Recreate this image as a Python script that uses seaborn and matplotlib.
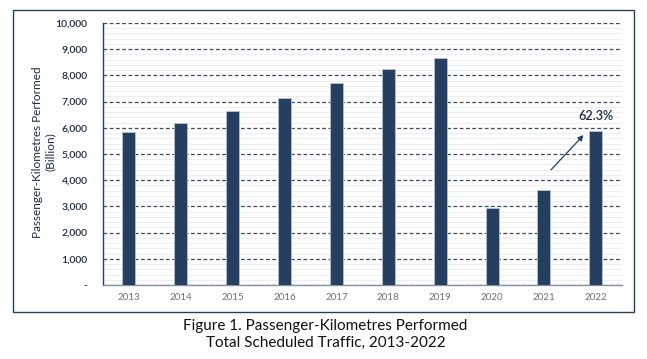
import numpy as np
import pandas as pd
import matplotlib.pyplot as plt
import seaborn as sns
from matplotlib.patches import Rectangle
from matplotlib.ticker import FuncFormatter, MultipleLocator

years = ['2013', '2014', '2015', '2016', '2017', '2018', '2019', '2020', '2021', '2022']
pkp = [5836, 6190, 6650, 7140, 7695, 8252, 8656, 2950, 3620, 5880]
growth_label = '62.3%'

NAVY = '#243f60'

sns.set_style('white')
plt.rcParams['font.family'] = ['Lato', 'DejaVu Sans']

df = pd.DataFrame({'year': years, 'pkp': pkp})

fig = plt.figure(figsize=(6.47, 3.59), dpi=100)
ax = fig.add_axes([0.159, 0.206, 0.802, 0.730])

sns.barplot(data=df, x='year', y='pkp', color=NAVY, width=0.25,
            edgecolor='#b8c2d0', linewidth=0.6, saturation=1, ax=ax, zorder=3)

ax.set_ylim(0, 10000)
ax.set_xlim(-0.5, 9.5)
ax.yaxis.set_major_locator(MultipleLocator(1000))
ax.yaxis.set_minor_locator(MultipleLocator(200))
ax.yaxis.set_major_formatter(FuncFormatter(lambda v, p: '-' if v == 0 else f'{int(v):,}'))

# faint minor lines and dashed major lines
ax.grid(axis='y', which='minor', color='#eeeeee', linewidth=0.7, zorder=0)
ax.grid(axis='y', which='major', color='#3a4a66', linestyle=(0, (3, 2)), linewidth=0.9, zorder=1)
ax.set_axisbelow(True)

for s in ['top', 'right']:
    ax.spines[s].set_visible(False)
ax.spines['left'].set_color(NAVY)
ax.spines['left'].set_linewidth(1.0)
ax.spines['bottom'].set_color('#8090a8')
ax.spines['bottom'].set_linewidth(1.0)

ax.tick_params(axis='y', which='major', length=3, color=NAVY, labelsize=7.5, labelcolor='#1a2a44', pad=8)
ax.tick_params(axis='y', which='minor', length=0)
for t in ax.get_yticklabels():
    t.set_fontweight('semibold')
ax.tick_params(axis='x', length=0, labelsize=7, labelcolor='#707070', pad=6)

ax.set_xlabel('')
ax.set_ylabel('')
fig.text(0.068, 0.577, 'Passenger-Kilometres Performed\n(Billion)', rotation=90,
         ha='center', va='center', multialignment='center', fontsize=8.5, color='#1a2a44')

# growth arrow from 2021 towards 2022
ax.annotate('', xy=(8.8, pkp[9] - 80), xytext=(8.1, pkp[8] + 700),
            arrowprops=dict(arrowstyle='-|>', color=NAVY, lw=0.9, mutation_scale=8), zorder=4)
ax.text(9.0, pkp[9] + 570, growth_label, ha='center', va='center', fontsize=9,
        fontweight='semibold', color='#1a2a44', zorder=4)

# outer border and caption
fig.patches.append(Rectangle((13 / 647, 1 - 312 / 359), 621 / 647, 302 / 359,
                             transform=fig.transFigure, fill=False, edgecolor=NAVY, linewidth=1.0))
fig.text(0.503, 0.068, 'Figure 1. Passenger-Kilometres Performed\nTotal Scheduled Traffic, 2013-2022',
         ha='center', va='center', fontsize=11, color='#111111', linespacing=1.2)

fig.savefig('out.png', dpi=100)
